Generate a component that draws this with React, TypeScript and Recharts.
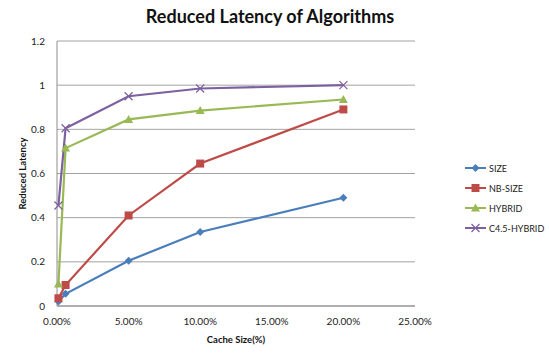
import React from "react";
import { LineChart, Line, XAxis, YAxis, CartesianGrid, Label } from "recharts";

// cache size (%) at each measurement
const cacheSizes = [0.1, 0.6, 5, 10, 20];
const sizeValues = [0.02, 0.055, 0.205, 0.335, 0.49];
const nbSizeValues = [0.035, 0.095, 0.41, 0.645, 0.89];
const hybridValues = [0.1, 0.715, 0.845, 0.885, 0.935];
const c45HybridValues = [0.455, 0.805, 0.95, 0.985, 1.0];
const xTicks = [0, 5, 10, 15, 20, 25];
const yTicks = [0, 0.2, 0.4, 0.6, 0.8, 1, 1.2];

const data = cacheSizes.map((x, i) => ({
  x,
  size: sizeValues[i],
  nbSize: nbSizeValues[i],
  hybrid: hybridValues[i],
  c45: c45HybridValues[i],
}));

const series = [
  { key: "size", name: "SIZE", color: "#4A7EBB", shape: "diamond" },
  { key: "nbSize", name: "NB-SIZE", color: "#BE4B48", shape: "square" },
  { key: "hybrid", name: "HYBRID", color: "#98B954", shape: "triangle" },
  { key: "c45", name: "C4.5-HYBRID", color: "#7D60A0", shape: "cross" },
];

const FONT = "Lato, 'Open Sans', sans-serif";

function Marker({ cx, cy, shape, color }: any) {
  if (cx == null || cy == null) return null;
  if (shape === "diamond")
    return <path d={`M${cx},${cy - 4}L${cx + 4},${cy}L${cx},${cy + 4}L${cx - 4},${cy}Z`} fill={color} />;
  if (shape === "square") return <rect x={cx - 4} y={cy - 4} width={8} height={8} fill={color} />;
  if (shape === "triangle")
    return <path d={`M${cx},${cy - 4.5}L${cx + 4.5},${cy + 3.5}L${cx - 4.5},${cy + 3.5}Z`} fill={color} />;
  return (
    <path
      d={`M${cx - 4},${cy - 4}L${cx + 4},${cy + 4}M${cx - 4},${cy + 4}L${cx + 4},${cy - 4}`}
      stroke={color}
      strokeWidth={1.2}
      fill="none"
    />
  );
}

function LegendBox() {
  return (
    <div
      style={{
        position: "absolute",
        left: 465,
        top: 158,
        fontFamily: FONT,
        fontSize: 9,
        color: "#222",
        whiteSpace: "nowrap",
      }}
    >
      {series.map((s) => (
        <div key={s.key} style={{ display: "flex", alignItems: "center", height: 20 }}>
          <svg width={21} height={10} style={{ marginRight: 3, flexShrink: 0 }}>
            <line x1={0} y1={5} x2={21} y2={5} stroke={s.color} strokeWidth={2} />
            <Marker cx={10.5} cy={5} shape={s.shape} color={s.color} />
          </svg>
          <span>{s.name}</span>
        </div>
      ))}
    </div>
  );
}

export default function App() {
  return (
    <div style={{ position: "absolute", left: 0, top: 0, width: 549, height: 354, background: "#fff" }}>
      <div
        style={{
          position: "absolute",
          top: 5,
          left: 0,
          width: 540,
          textAlign: "center",
          fontFamily: FONT,
          fontWeight: "bold",
          fontSize: 18,
          color: "#111",
        }}
      >
        Reduced Latency of Algorithms
      </div>
      <LineChart
        width={549}
        height={354}
        data={data}
        margin={{ top: 41, right: 134, bottom: 26, left: 27 }}
      >
        <CartesianGrid vertical={false} stroke="#8c8c8c" strokeWidth={0.8} />
        <XAxis
          dataKey="x"
          type="number"
          domain={[0, 25]}
          ticks={xTicks}
          tickFormatter={(v) => v.toFixed(2) + "%"}
          tickLine={false}
          axisLine={{ stroke: "#8c8c8c" }}
          height={22}
          tick={{ fontSize: 10, fill: "#222", fontFamily: FONT }}
          tickMargin={6}
        >
          <Label
            value="Cache Size(%)"
            position="bottom"
            offset={8}
            style={{ fontSize: 9.5, fontWeight: "bold", fill: "#111", fontFamily: FONT }}
          />
        </XAxis>
        <YAxis
          type="number"
          domain={[0, 1.2]}
          ticks={yTicks}
          tickLine={false}
          axisLine={{ stroke: "#8c8c8c" }}
          width={30}
          tick={{ fontSize: 10, fill: "#222", fontFamily: FONT }}
          tickMargin={6}
        >
          <Label
            value="Reduced Latency"
            angle={-90}
            position="left"
            offset={4}
            style={{ fontSize: 9.5, fontWeight: "bold", fill: "#111", fontFamily: FONT, textAnchor: "middle" }}
          />
        </YAxis>
        {series.map((s) => (
          <Line
            key={s.key}
            dataKey={s.key}
            name={s.name}
            stroke={s.color}
            strokeWidth={2.2}
            isAnimationActive={false}
            dot={(p: any) => <Marker key={`${s.key}-${p.index}`} cx={p.cx} cy={p.cy} shape={s.shape} color={s.color} />}
            activeDot={false}
          />
        ))}
      </LineChart>
      <LegendBox />
    </div>
  );
}
